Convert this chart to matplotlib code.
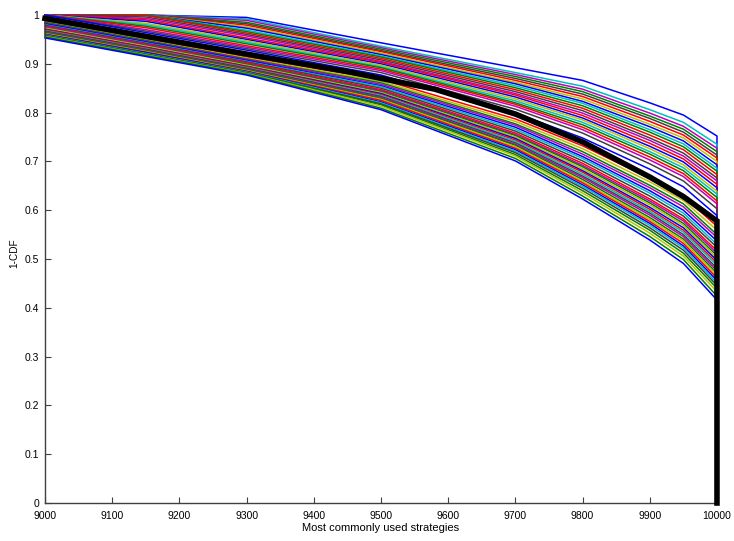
import matplotlib
matplotlib.use("Agg")
import matplotlib.pyplot as plt

# Positions des points (axe x)
x_grid = [9000, 9150, 9300, 9500, 9700, 9800, 9900, 9950, 10000]

# 1-CDF de chaque courbe (48 courbes, du haut vers le bas) a chaque x de x_grid
y_9000 = [1.0, 1.0, 1.0, 1.0, 1.0, 1.0, 1.0, 1.0, 1.0, 1.0, 1.0,
          1.0, 1.0, 1.0, 1.0, 1.0, 1.0, 1.0, 1.0, 1.0, 1.0, 1.0,
          0.988, 0.986, 0.985, 0.983, 0.982, 0.980, 0.979, 0.977, 0.976, 0.974,
          0.973, 0.971, 0.970, 0.968, 0.967, 0.965, 0.964, 0.962, 0.961, 0.960,
          0.959, 0.958, 0.957, 0.956, 0.955, 0.953]
y_9150 = [1.0, 1.0, 1.0, 1.0, 1.0, 1.0, 1.0, 1.0, 1.0, 1.0, 0.999,
          0.996, 0.993, 0.990, 0.987, 0.983, 0.980, 0.977, 0.974, 0.970, 0.967, 0.964,
          0.951, 0.949, 0.948, 0.946, 0.945, 0.943, 0.942, 0.940, 0.939, 0.937,
          0.936, 0.934, 0.933, 0.931, 0.930, 0.928, 0.927, 0.925, 0.924, 0.923,
          0.921, 0.920, 0.919, 0.918, 0.917, 0.915]
y_9300 = [0.995, 0.992, 0.989, 0.985, 0.982, 0.979, 0.976, 0.973, 0.969, 0.966, 0.963,
          0.960, 0.957, 0.953, 0.950, 0.947, 0.944, 0.941, 0.937, 0.934, 0.931, 0.928,
          0.914, 0.912, 0.910, 0.909, 0.907, 0.905, 0.904, 0.902, 0.900, 0.899,
          0.897, 0.895, 0.894, 0.892, 0.891, 0.889, 0.888, 0.886, 0.885, 0.884,
          0.883, 0.882, 0.881, 0.880, 0.879, 0.877]
y_9500 = [0.943, 0.936, 0.933, 0.930, 0.927, 0.925, 0.922, 0.919, 0.916, 0.914, 0.911,
          0.908, 0.905, 0.903, 0.900, 0.897, 0.894, 0.892, 0.889, 0.886, 0.882, 0.877,
          0.868, 0.864, 0.861, 0.858, 0.855, 0.853, 0.850, 0.847, 0.845, 0.843,
          0.841, 0.839, 0.837, 0.835, 0.833, 0.831, 0.829, 0.827, 0.825, 0.822,
          0.820, 0.818, 0.816, 0.813, 0.809, 0.806]
y_9700 = [0.892, 0.882, 0.878, 0.874, 0.870, 0.866, 0.862, 0.859, 0.855, 0.851, 0.847,
          0.843, 0.839, 0.836, 0.832, 0.828, 0.824, 0.820, 0.817, 0.813, 0.807, 0.799,
          0.787, 0.782, 0.777, 0.774, 0.770, 0.766, 0.762, 0.758, 0.755, 0.753,
          0.750, 0.747, 0.744, 0.741, 0.738, 0.735, 0.733, 0.730, 0.727, 0.724,
          0.721, 0.718, 0.714, 0.711, 0.706, 0.701]
y_9800 = [0.866, 0.854, 0.848, 0.843, 0.838, 0.833, 0.828, 0.823, 0.819, 0.814, 0.809,
          0.804, 0.799, 0.794, 0.789, 0.785, 0.780, 0.775, 0.770, 0.765, 0.758, 0.748,
          0.732, 0.726, 0.720, 0.715, 0.710, 0.706, 0.701, 0.696, 0.692, 0.689,
          0.685, 0.681, 0.678, 0.674, 0.670, 0.667, 0.663, 0.659, 0.656, 0.652,
          0.649, 0.645, 0.640, 0.635, 0.629, 0.623]
y_9900 = [0.820, 0.806, 0.799, 0.793, 0.788, 0.782, 0.776, 0.771, 0.765, 0.760, 0.754,
          0.748, 0.743, 0.737, 0.731, 0.726, 0.720, 0.715, 0.709, 0.703, 0.695, 0.684,
          0.665, 0.658, 0.651, 0.646, 0.640, 0.635, 0.629, 0.623, 0.619, 0.615,
          0.611, 0.606, 0.602, 0.598, 0.594, 0.590, 0.585, 0.581, 0.577, 0.573,
          0.569, 0.564, 0.559, 0.553, 0.546, 0.539]
y_9950 = [0.795, 0.780, 0.772, 0.766, 0.760, 0.754, 0.748, 0.742, 0.736, 0.730, 0.724,
          0.717, 0.711, 0.705, 0.699, 0.693, 0.687, 0.681, 0.675, 0.669, 0.660, 0.648,
          0.628, 0.620, 0.613, 0.607, 0.600, 0.594, 0.588, 0.582, 0.578, 0.573,
          0.569, 0.564, 0.559, 0.555, 0.550, 0.546, 0.541, 0.537, 0.532, 0.527,
          0.523, 0.518, 0.512, 0.506, 0.499, 0.491]
y_10000 = [0.752, 0.735, 0.727, 0.720, 0.713, 0.707, 0.700, 0.693, 0.686, 0.680, 0.673,
           0.666, 0.660, 0.653, 0.646, 0.639, 0.633, 0.626, 0.619, 0.613, 0.603, 0.589,
           0.567, 0.559, 0.550, 0.544, 0.537, 0.530, 0.524, 0.517, 0.512, 0.507,
           0.502, 0.497, 0.492, 0.487, 0.481, 0.476, 0.471, 0.466, 0.461, 0.456,
           0.451, 0.446, 0.440, 0.433, 0.424, 0.416]

# Courbe moyenne (trait noir epais)
black_x = [9000, 9300, 9450, 9580, 9700, 9800, 9900, 9950, 10000, 10000]
black_y = [0.993, 0.920, 0.884, 0.848, 0.797, 0.740, 0.668, 0.628, 0.578, 0.0]

# ordre de couleurs par defaut de MATLAB
matlab_colors = [(0, 0, 1), (0, 0.5, 0), (1, 0, 0), (0, 0.75, 0.75),
                 (0.75, 0, 0.75), (0.75, 0.75, 0), (0.25, 0.25, 0.25)]
# couleur de chaque courbe (indice dans matlab_colors), du haut vers le bas
color_idx = [0, 3, 4, 1, 6, 2, 5, 0, 3, 1, 2, 6, 4, 2, 0, 5, 3, 1, 2, 4, 6, 0,
             2, 5, 1, 4, 0, 3, 6, 2, 4, 1, 5, 0, 2, 3, 6, 4, 1, 5, 2, 0, 3, 6,
             1, 5, 1, 0]


def main():
    plt.rcParams['font.family'] = ['Liberation Sans', 'DejaVu Sans']

    fig = plt.figure(figsize=(7.34, 5.41), dpi=100)
    ax = fig.add_axes([0.0613, 0.0702, 0.9155, 0.9021])

    columns = [y_9000, y_9150, y_9300, y_9500, y_9700,
               y_9800, y_9900, y_9950, y_10000]
    n_lines = len(y_9000)
    for i in range(n_lines):
        xs = x_grid + [10000]
        ys = [col[i] for col in columns] + [0.0]
        ax.plot(xs, ys, color=matlab_colors[color_idx[i]], linewidth=1.1,
                clip_on=False, zorder=2)

    ax.plot(black_x, black_y, color='black', linewidth=4.0,
            solid_joinstyle='miter', clip_on=False, zorder=3)

    ax.set_xlim(9000, 10000)
    ax.set_ylim(0, 1)
    ax.set_xticks(range(9000, 10001, 100))
    ax.set_yticks([i / 10 for i in range(11)])
    ax.set_yticklabels(['0', '0.1', '0.2', '0.3', '0.4', '0.5', '0.6',
                        '0.7', '0.8', '0.9', '1'])

    for side in ['top', 'right']:
        ax.spines[side].set_visible(False)
    for side in ['left', 'bottom']:
        ax.spines[side].set_color('#404040')
        ax.spines[side].set_linewidth(1.0)

    ax.tick_params(direction='in', length=4, width=0.8, colors='#404040',
                   labelcolor='black', labelsize=7.5)
    ax.tick_params(axis='x', pad=6)
    ax.tick_params(axis='y', pad=4)
    ax.set_xlabel('Most commonly used strategies', fontsize=8, labelpad=1.5)
    ax.set_ylabel('1-CDF', fontsize=7.2)
    ax.yaxis.set_label_coords(-0.038, 0.512)

    fig.savefig('out.png', dpi=100)


if __name__ == "__main__":
    main()
